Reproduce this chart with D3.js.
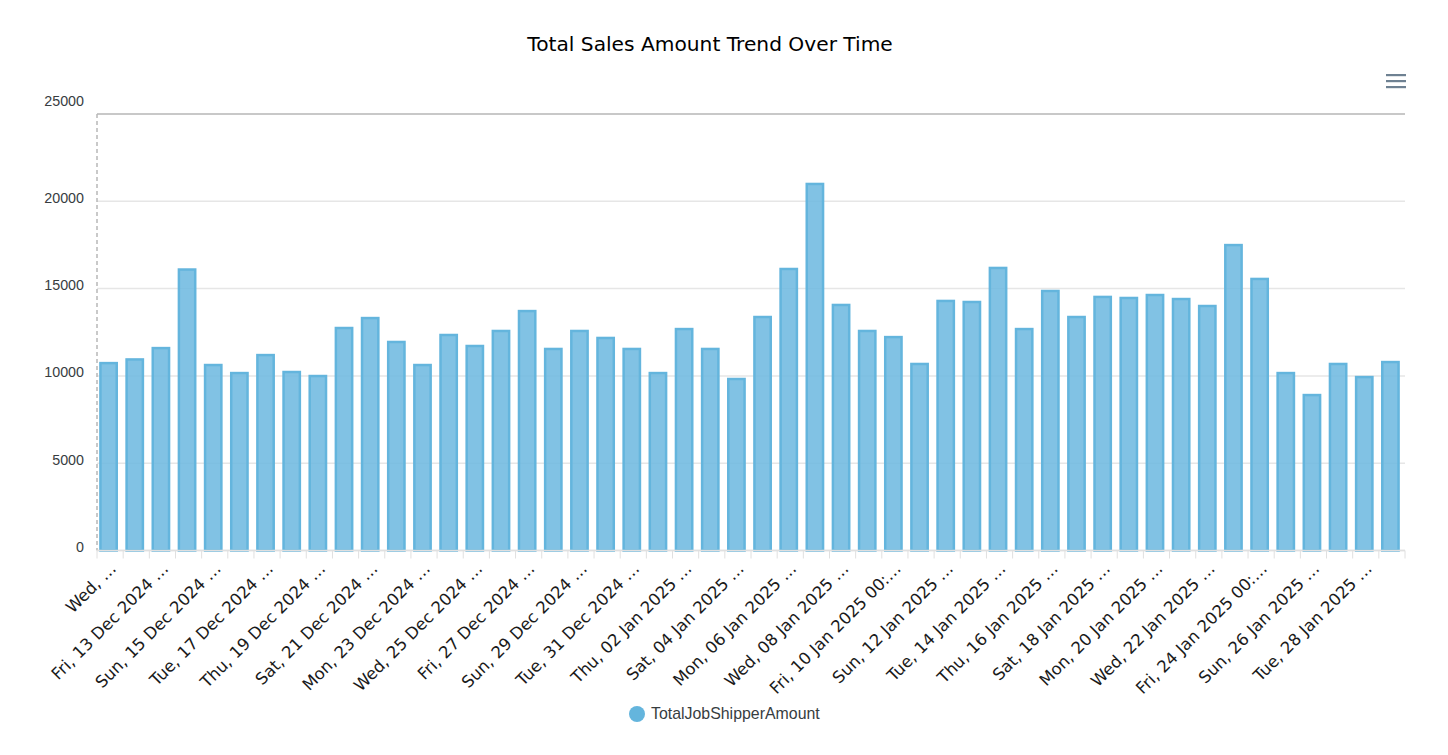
<!DOCTYPE html>
<html>
<head>
<meta charset="utf-8">
<title>Total Sales Amount Trend Over Time</title>
<script src="https://cdn.jsdelivr.net/npm/d3@7"></script>
<style>
  html, body { margin: 0; padding: 0; background: #fff; }
  svg { display: block; }
</style>
</head>
<body>
<div id="chart"></div>
<script>
// Values, one bar per day
var days = ["11 Dec","12 Dec","13 Dec","14 Dec","15 Dec","16 Dec","17 Dec","18 Dec","19 Dec","20 Dec",
  "21 Dec","22 Dec","23 Dec","24 Dec","25 Dec","26 Dec","27 Dec","28 Dec","29 Dec","30 Dec","31 Dec",
  "01 Jan","02 Jan","03 Jan","04 Jan","05 Jan","06 Jan","07 Jan","08 Jan","09 Jan","10 Jan","11 Jan",
  "12 Jan","13 Jan","14 Jan","15 Jan","16 Jan","17 Jan","18 Jan","19 Jan","20 Jan","21 Jan","22 Jan",
  "23 Jan","24 Jan","25 Jan","26 Jan","27 Jan","28 Jan","29 Jan"];
var amounts = [10790,11000,11650,16150,10680,10220,11250,10280,10050,12800,
  13370,12000,10680,12400,11770,12630,13770,11600,12630,12230,11600,
  10220,12740,11600,9880,13430,16180,21050,14120,12630,12280,10740,
  14350,14290,16240,12740,14920,13430,14580,14520,14690,14460,14060,
  17550,15610,10220,8960,10740,9990,10850];
var tickLabels = {
  "11 Dec":"Wed, …", "13 Dec":"Fri, 13 Dec 2024 …", "15 Dec":"Sun, 15 Dec 2024 …",
  "17 Dec":"Tue, 17 Dec 2024 …", "19 Dec":"Thu, 19 Dec 2024 …", "21 Dec":"Sat, 21 Dec 2024 …",
  "23 Dec":"Mon, 23 Dec 2024 …", "25 Dec":"Wed, 25 Dec 2024 …", "27 Dec":"Fri, 27 Dec 2024 …",
  "29 Dec":"Sun, 29 Dec 2024 …", "31 Dec":"Tue, 31 Dec 2024 …", "02 Jan":"Thu, 02 Jan 2025 …",
  "04 Jan":"Sat, 04 Jan 2025 …", "06 Jan":"Mon, 06 Jan 2025 …", "08 Jan":"Wed, 08 Jan 2025 …",
  "10 Jan":"Fri, 10 Jan 2025 00:…", "12 Jan":"Sun, 12 Jan 2025 …", "14 Jan":"Tue, 14 Jan 2025 …",
  "16 Jan":"Thu, 16 Jan 2025 …", "18 Jan":"Sat, 18 Jan 2025 …", "20 Jan":"Mon, 20 Jan 2025 …",
  "22 Jan":"Wed, 22 Jan 2025 …", "24 Jan":"Fri, 24 Jan 2025 00:…", "26 Jan":"Sun, 26 Jan 2025 …",
  "28 Jan":"Tue, 28 Jan 2025 …"
};
var yTicks = [0,5000,10000,15000,20000,25000];

var width = 1448, height = 755;
var left = 97, right = 1405, top_ = 114, bottom = 550.5;
var helv = "'Liberation Sans', Arial, sans-serif";

var svg = d3.select("#chart").append("svg")
  .attr("width", width).attr("height", height);

var x = d3.scaleBand().domain(days).range([left, right]).paddingInner(0).paddingOuter(0);
var y = d3.scaleLinear().domain([0, 25000]).range([bottom, top_]);

// Title
svg.append("text").attr("x", 710).attr("y", 51)
  .attr("text-anchor", "middle")
  .style("font-family", "'DejaVu Sans', sans-serif").style("font-size", "20.2px").attr("fill", "#000")
  .text("Total Sales Amount Trend Over Time");

// Grid lines
svg.append("g").selectAll("line").data(yTicks).join("line")
  .attr("x1", left).attr("x2", right)
  .attr("y1", d => y(d)).attr("y2", d => y(d))
  .attr("stroke", d => d == 25000 ? "#c8c8c8" : "#e6e6e6")
  .attr("stroke-width", d => d == 25000 ? 2 : 1.5);

// Dashed left edge
svg.append("line").attr("x1", left).attr("x2", left).attr("y1", top_).attr("y2", bottom)
  .attr("stroke", "#b8b8b8").attr("stroke-width", 1.5).attr("stroke-dasharray", "4 3");

// Y labels sit a little above their grid line, the top one more so
svg.append("g").selectAll("text").data(yTicks).join("text")
  .attr("x", 84).attr("y", d => y(d) + (d == 25000 ? -8 : 1.5))
  .attr("text-anchor", "end")
  .style("font-family", helv).style("font-size", "14.3px").attr("fill", "#373d3f")
  .text(d => d);

// Bars
svg.append("g").selectAll("rect").data(amounts).join("rect")
  .attr("x", (d, i) => x(days[i]) + x.bandwidth() * 0.15 - 0.5)
  .attr("width", x.bandwidth() * 0.7 - 2)
  .attr("y", d => y(d) + 1)
  .attr("height", d => bottom - y(d) - 1)
  .attr("fill", "#6fbae0").attr("fill-opacity", 0.88)
  .attr("stroke", "#64b5dd").attr("stroke-width", 2.5);

// X axis, ticks on the band edges and labels on every other day
var xAxis = d3.axisBottom(x).tickSize(0).tickPadding(0)
  .tickFormat(d => tickLabels[d] || "");
var gx = svg.append("g").attr("transform", "translate(0," + bottom + ")").call(xAxis);
gx.select(".domain").remove();
gx.selectAll("text")
  .attr("transform", "translate(3,15) rotate(-45)")
  .attr("y", 0).attr("dy", "0.35em")
  .attr("text-anchor", "end")
  .style("font-family", "'DejaVu Sans', sans-serif").style("font-size", "16.5px").attr("fill", "#1a1a1a");

svg.append("line").attr("x1", left).attr("x2", right).attr("y1", bottom).attr("y2", bottom)
  .attr("stroke", "#e0e0e0").attr("stroke-width", 1.5);
svg.append("g").selectAll("line").data(days.concat(["end"])).join("line")
  .attr("x1", d => d == "end" ? right : x(d)).attr("x2", d => d == "end" ? right : x(d))
  .attr("y1", bottom).attr("y2", bottom + 8)
  .attr("stroke", "#e0e0e0").attr("stroke-width", 1);

// Legend
svg.append("circle").attr("cx", 637).attr("cy", 714).attr("r", 8).attr("fill", "#64b5dd");
svg.append("text").attr("x", 651).attr("y", 719)
  .style("font-family", helv).style("font-size", "15.9px").attr("fill", "#373d3f")
  .text("TotalJobShipperAmount");

// Menu icon
svg.append("g").selectAll("rect").data([75, 81, 87]).join("rect")
  .attr("x", 1386).attr("y", d => d - 1).attr("width", 20).attr("height", 2.2).attr("fill", "#6e8192");
</script>
</body>
</html>
